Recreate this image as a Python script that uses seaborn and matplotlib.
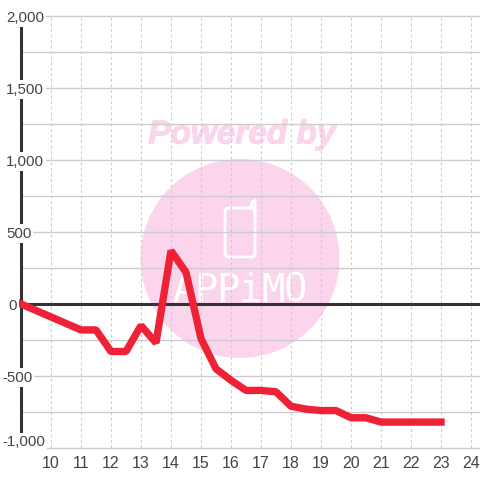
import matplotlib
matplotlib.use("Agg")
import matplotlib.pyplot as plt
import matplotlib.patheffects as pe
import seaborn as sns
import pandas as pd
from matplotlib.patches import Circle, FancyBboxPatch
from matplotlib.transforms import Affine2D

hours = [9, 9.5, 10, 10.5, 11, 11.5, 12, 12.5, 13, 13.5, 14, 14.5, 15, 15.5, 16, 16.5,
         17, 17.5, 18, 18.5, 19, 19.5, 20, 20.5, 21, 21.5, 22, 22.5, 23]
values = [0, -45, -90, -135, -180, -180, -330, -330, -150, -270, 370, 220, -240, -450,
          -530, -600, -600, -610, -710, -730, -740, -740, -790, -790, -820, -820, -820, -820, -820]
x_ticks = list(range(10, 25))
y_ticks = [-1000, -500, 0, 500, 1000, 1500, 2000]
y_labels = ["-1,000", "-500", "0", "500", "1,000", "1,500", "2,000"]
y_grid = [-1000, -750, -500, -250, 0, 250, 500, 750, 1000, 1250, 1500, 1750, 2000]

sns.set_theme(style="white")
plt.rcParams["font.family"] = ["Liberation Sans", "DejaVu Sans"]

W = 480
fig = plt.figure(figsize=(4.8, 4.8), dpi=100, facecolor="white")
rect = [21 / W, (480 - 448) / W, (480 - 21) / W, (448 - 16) / W]
ax = fig.add_axes(rect, zorder=1)
ax.set_xlim(9, 9 + 459 / 30)
ax.set_ylim(-1000, 2000)
for s in ax.spines.values():
    s.set_visible(False)

# watermark (pixel coordinates, y down)
px = Affine2D().scale(1, -1).translate(0, 480)
PINK = "#fbd5ec"
ax.add_patch(Circle((240, 258.5), 99.5, transform=px, color=PINK, lw=0, zorder=0.1, clip_on=False))
ax.text(242, 135, "Powered by", transform=px, color=PINK, fontsize=24, fontweight="bold",
        fontstyle="italic", ha="center", va="center", zorder=0.1, family=["Liberation Sans"],
        path_effects=[pe.withStroke(linewidth=0.8, foreground=PINK)])
ax.add_patch(FancyBboxPatch((225, 208), 30, 49, boxstyle="round,pad=0,rounding_size=4", transform=px,
                            fc="none", ec="white", lw=2.0, zorder=0.2))
ax.plot([244, 251, 252, 255, 255, 255], [208, 208, 202, 200, 204, 214], transform=px, color="white",
        lw=2.0, zorder=0.2, solid_capstyle="round", solid_joinstyle="round")
for i, ch in enumerate("APPiMO"):
    ax.text(184 + i * 22.2, 291, ch, transform=px, color="white", fontsize=28, ha="center", va="center",
            zorder=0.2, family=["DejaVu Sans Mono"])

ax.set_axisbelow(True)
ax.set_yticks(y_grid)
ax.set_xticks(x_ticks)
ax.grid(axis="y", color="#cccccc", lw=1.0, ls="-", zorder=0.3)
ax.grid(axis="x", color="#cccccc", lw=0.8, ls=(0, (2.5, 2.5)), zorder=0.3)
ax.tick_params(axis="y", left=False, labelleft=False, length=0)
ax.tick_params(axis="x", bottom=False, length=0, labelsize=11.5, labelcolor="#444444", pad=6)
for l in ax.get_ygridlines():
    l.set_clip_on(False)
ax.set_xticklabels([str(t) for t in x_ticks])

ax.axhline(0, color="#333333", lw=2.2, zorder=1.5)
ax.axvline(9, color="#333333", lw=2.2, zorder=1.6, clip_on=False)

df = pd.DataFrame({"hour": hours, "value": values})
sns.lineplot(data=df, x="hour", y="value", ax=ax, color="#ef2136", lw=5.3, zorder=3,
             solid_joinstyle="bevel", solid_capstyle="projecting", clip_on=False, errorbar=None)
ax.set_xlabel("")
ax.set_ylabel("")

# y tick labels sit on top of the axis line with a white background
top = fig.add_axes(rect, zorder=2)
top.patch.set_visible(False)
top.set_ylim(-1000, 2000)
top.set_xticks([])
for s in top.spines.values():
    s.set_visible(False)
top.set_yticks(y_ticks)
top.set_yticklabels(y_labels)
top.tick_params(axis="y", left=False, length=0, labelsize=10.8, labelcolor="#444444", pad=0)
for lab, t in zip(top.get_yticklabels(), y_labels):
    neg = t.startswith("-")
    dx = 2 if neg else (8 if t == "0" else 6)
    dy = 7 if t == "-1,000" else 0
    lab.set_ha("left")
    lab.set_clip_on(False)
    lab.set_transform(lab.get_transform() + Affine2D().translate(dx - 21, dy))
    lab.set_bbox(dict(facecolor="white", edgecolor="none", pad=1.5))

fig.savefig("out.png", dpi=100)
